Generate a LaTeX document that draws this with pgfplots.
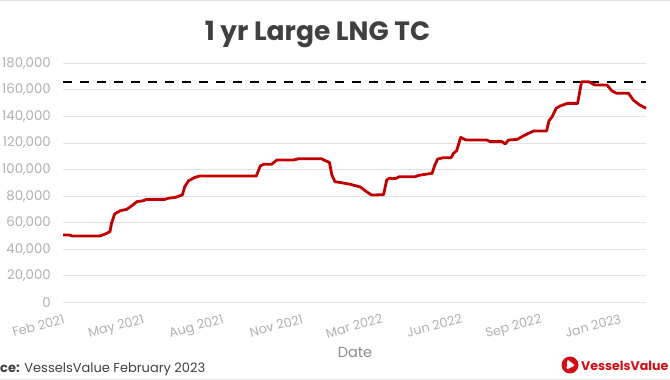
\documentclass[border=0pt]{standalone}
\usepackage{pgfplots}
\pgfplotsset{compat=1.18}
\usepackage{fontspec}
\setmainfont{Poppins}
\definecolor{linered}{HTML}{C00000}
\definecolor{gridgray}{HTML}{E3E3E3}
\definecolor{tickgray}{HTML}{B0B0B0}
\definecolor{titlegray}{HTML}{404040}
\definecolor{labelgray}{HTML}{8C8C8C}
\definecolor{logored}{HTML}{D40F14}
\pgfplotstableread{
day val
0 50700
8 50700
12 49900
46 49900
53 51400
59 53200
61 59500
65 66500
72 69000
80 70000
86 72500
93 75800
101 76500
105 77500
128 77500
132 78300
141 79000
150 80800
153 87000
158 91600
166 94100
172 95100
243 95100
248 102600
252 103900
262 103900
269 107200
290 107200
296 108100
325 108100
330 106600
335 105400
338 95900
342 90800
348 90300
361 88900
374 86800
380 84000
388 80800
403 81000
407 92100
410 93400
418 93200
423 94600
443 94600
447 95600
458 96600
464 97100
467 102600
471 107900
478 108900
488 108900
491 112200
495 114200
500 124200
507 122200
533 122200
537 121000
552 121000
556 119200
560 122200
571 122700
577 124700
585 127200
592 129000
608 129000
611 136700
615 139800
620 146100
625 147800
634 149800
647 149800
652 166100
661 166100
669 163600
684 163600
690 159300
696 157400
711 157400
717 152300
724 149000
733 146100
}\ratedata
\begin{document}
\begin{tikzpicture}[x=1pt,y=1pt]
\begin{axis}[
  at={(63pt,77.7pt)}, anchor=south west,
  width=583pt, height=239pt, scale only axis,
  xmin=0, xmax=733, ymin=0, ymax=180000,
  axis line style={draw=none},
  major tick style={draw=none},
  ytick={0,20000,40000,60000,80000,100000,120000,140000,160000,180000},
  yticklabels={0,{20,000},{40,000},{60,000},{80,000},{100,000},{120,000},{140,000},{160,000},{180,000}},
  ymajorgrids, grid style={color=gridgray, line width=0.9pt},
  xtick={0,100,200,300,400,500,600,700},
  xticklabels={Feb 2021,May 2021,Aug 2021,Nov 2021,Mar 2022,Jun 2022,Sep 2022,Jan 2023},
  xticklabel style={rotate=15, anchor=north east, inner sep=0pt, xshift=-3pt, yshift=-11pt, font=\fontsize{12.8}{12.8}\selectfont, color=tickgray},
  yticklabel style={anchor=east, inner sep=0pt, xshift=-12pt, font=\fontsize{13.3}{13.3}\selectfont, color=tickgray},
  scaled y ticks=false,
  clip=false,
]
\addplot[black, line width=2.3pt, dash pattern=on 9pt off 8pt] coordinates {(0,166000) (733,166000)};
\addplot[linered, line width=2.8pt, line join=round] table[x=day, y=val] {\ratedata};
\end{axis}
\node[anchor=base, font=\fontsize{26.5}{26.5}\selectfont\bfseries, color=titlegray] at (317.5,339) {1 yr Large LNG TC};
\node[anchor=base, font=\fontsize{14.5}{14.5}\selectfont, color=labelgray] at (355,22) {Date};
\node[anchor=base west, inner sep=0pt, font=\fontsize{13}{13}\selectfont, color=titlegray] at (0,7) {\llap{\bfseries Sour}\textbf{ce:} VesselsValue February 2023};
\fill[logored] (570,15) circle (8.5);
\fill[white, rounded corners=1pt] (566.5,10.5) -- (575,14.5) -- (567.5,20.5) -- cycle;
\node[anchor=base west, inner sep=0pt, font=\fontsize{12.6}{12.6}\selectfont\bfseries, color=logored] at (581,9.5) {VesselsValue};
\draw[gridgray, line width=0.8pt] (0,379.5) -- (670,379.5);
\draw[gridgray, line width=0.8pt] (0,1) -- (670,1);
\pgfresetboundingbox
\path[use as bounding box] (0,0) rectangle (670,380);
\end{tikzpicture}
\end{document}
